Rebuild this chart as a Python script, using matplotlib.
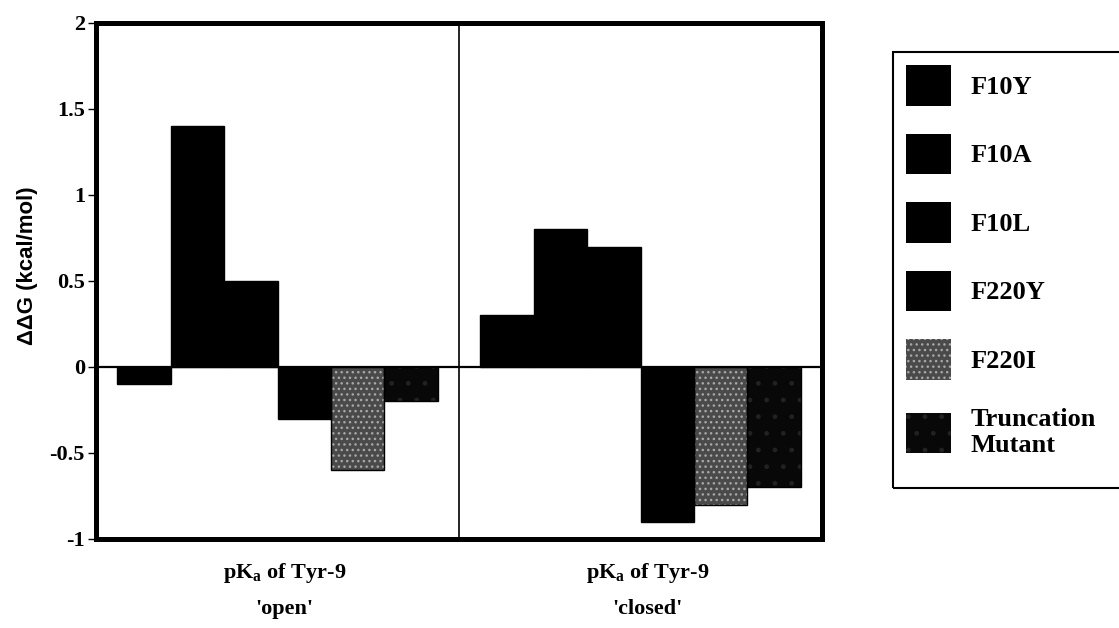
import numpy as np
import matplotlib.pyplot as plt
from matplotlib.patches import Patch, Rectangle

plt.rcParams['mathtext.fontset'] = 'custom'
plt.rcParams['mathtext.rm'] = 'Liberation Serif:bold'
plt.rcParams['mathtext.it'] = 'Liberation Serif:bold'
plt.rcParams['mathtext.bf'] = 'Liberation Serif:bold'
plt.rcParams['hatch.linewidth'] = 1.0

# ddG of each mutant for the two pKa measurements
mutants = ['F10Y', 'F10A', 'F10L', 'F220Y', 'F220I', 'Truncation\nMutant']
states = ["pK$_\\mathrm{a}$ of Tyr-9\n'open'", "pK$_\\mathrm{a}$ of Tyr-9\n'closed'"]
ddg_open = [-0.1, 1.4, 0.5, -0.3, -0.6, -0.2]
ddg_closed = [0.3, 0.8, 0.7, -0.9, -0.8, -0.7]
yticks = [-1, -0.5, 0, 0.5, 1, 1.5, 2]

fills = ['black', 'black', 'black', 'black', '#4a4a4a', '#080808']
hatches = [None, None, None, None, '...', '.']
hatch_cols = ['black', 'black', 'black', 'black', '#a8a8a8', '#222222']

serif = {'family': 'Liberation Serif', 'weight': 'bold'}

W, H = 1119, 628
fig = plt.figure(figsize=(W / 100, H / 100), dpi=100)
ax = fig.add_axes([96 / W, (H - 539) / H, (822 - 96) / W, (539 - 23) / H])

vals = np.array([ddg_open, ddg_closed])
centers = np.arange(len(states)) + 0.5
width = 0.147
for i, name in enumerate(mutants):
    xs = centers + (i - (len(mutants) - 1) / 2) * width
    ax.bar(xs, vals[:, i], width, color=fills[i], hatch=hatches[i],
           edgecolor=hatch_cols[i], linewidth=0, zorder=2)
    ax.bar(xs, vals[:, i], width, fill=False, edgecolor='black',
           linewidth=1.0, zorder=3)

ax.axhline(0, color='black', lw=1.6, zorder=4)
ax.axvline(1, color='black', lw=1.2, zorder=1)

ax.set_xlim(0, 2)
ax.set_ylim(-1, 2)
ax.set_yticks(yticks)
ax.set_yticklabels(['%g' % t for t in yticks], fontdict=serif, fontsize=16)
ax.set_xticks(centers + 0.02)
ax.set_xticklabels(states, fontdict=serif, fontsize=16, linespacing=1.9)
ax.tick_params(axis='x', length=0, pad=16)
ax.tick_params(axis='y', direction='out', length=6, width=1, pad=2)
for s in ax.spines.values():
    s.set_linewidth(3.6)

ax.set_ylabel('ΔΔG (kcal/mol)', family='Liberation Sans', weight='bold',
              fontsize=16)
ax.yaxis.set_label_coords(-0.080, 0.53)

handles = [Patch(facecolor=fills[i], hatch=hatches[i], edgecolor=hatch_cols[i],
                 linewidth=0) for i in range(len(mutants))]
fig.legend(handles, mutants, loc='upper left', bbox_to_anchor=(893 / W, 1 - 52 / H),
           frameon=False, prop={'family': 'Liberation Serif', 'weight': 'bold', 'size': 19},
           handlelength=1.7, handleheight=2.0, handletextpad=0.75,
           labelspacing=1.05, borderpad=0.5, borderaxespad=0)
fig.add_artist(Rectangle((893 / W, 1 - 488 / H), 0.3, (488 - 52) / H,
                         transform=fig.transFigure, fill=False,
                         edgecolor='black', lw=1.5, clip_on=False))

fig.savefig('out.png', dpi=100)
